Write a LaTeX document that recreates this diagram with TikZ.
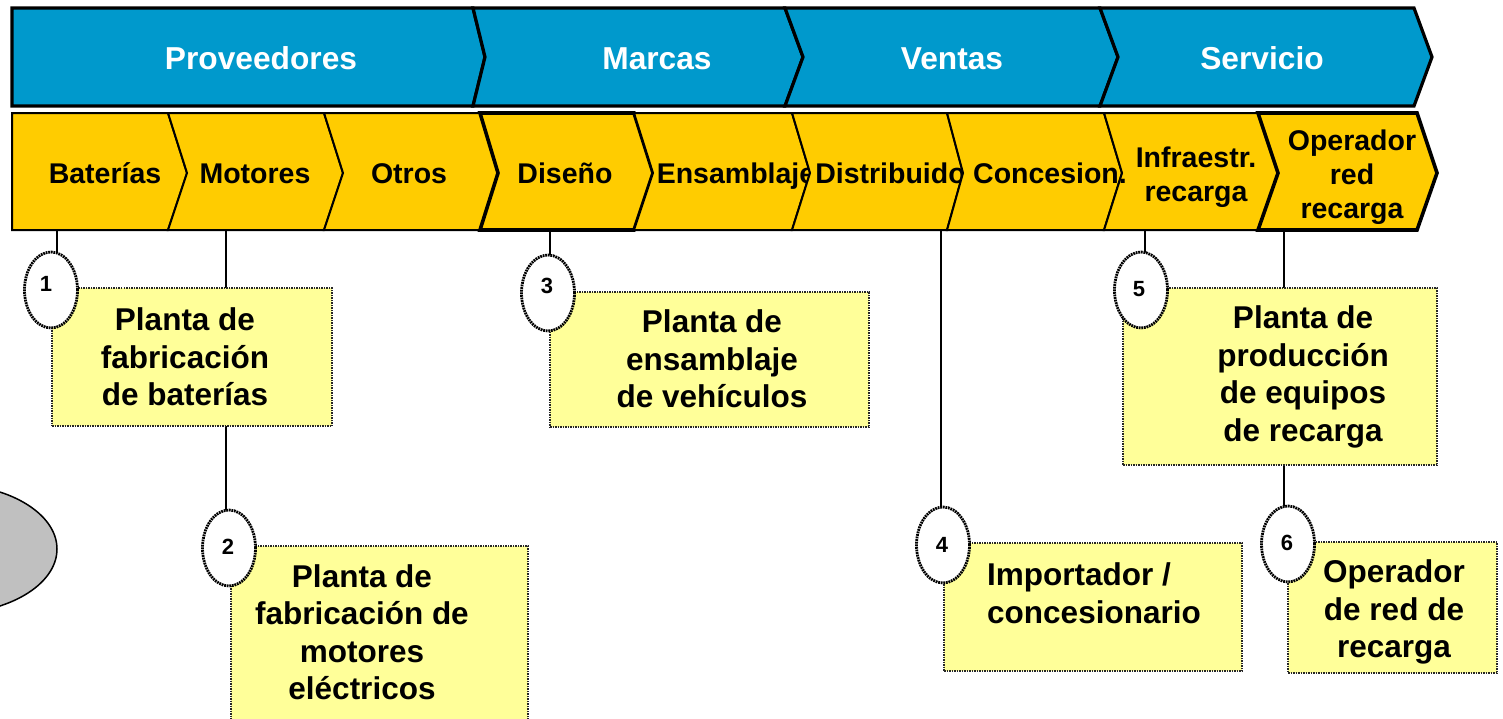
\documentclass[tikz,border=0pt]{standalone}
\usepackage{fontspec}
\setmainfont{Liberation Sans}
\usetikzlibrary{shapes.geometric}
\definecolor{bandblue}{HTML}{0099CC}
\definecolor{bandyel}{HTML}{FFCC00}
\definecolor{boxyel}{HTML}{FFFF99}
\definecolor{ovgray}{HTML}{C0C0C0}
\begin{document}
\begin{tikzpicture}[x=1pt,y=-1pt,
 bseg/.style={fill=bandblue, draw=black, line width=3.2pt, line join=miter},
 yseg/.style={fill=bandyel, draw=black, line width=2pt, line join=miter},
 ysegb/.style={yseg, line width=3.6pt},
 btxt/.style={text=white, font=\fontsize{31.7}{38}\selectfont\bfseries, inner sep=0pt, anchor=base},
 ytxt/.style={text=black, font=\fontsize{28.5}{34}\selectfont\bfseries, inner sep=0pt, align=center},
 ytxtb/.style={ytxt, anchor=base},
 boxstyle/.style={rectangle, fill=boxyel, draw=black!85, densely dotted, line width=1.5pt, inner sep=0pt},
 boxtxt/.style={font=\fontsize{31.5}{37.5}\selectfont\bfseries, inner sep=0pt, align=center},
 numcirc/.style={ellipse, fill=white, draw=black, dash pattern=on 1.8pt off 0.8pt, line width=2.8pt, minimum width=53pt, minimum height=76pt, inner sep=0pt},
 numtxt/.style={font=\fontsize{22}{24}\selectfont\bfseries, inner sep=0pt},
 link/.style={draw=black, line width=1.5pt}
]
\useasboundingbox (0,0) rectangle (1503,718);
\clip (0,0) rectangle (1503,718);

% background oval
\node[ellipse, fill=ovgray, draw=black, line width=1.5pt, minimum width=220pt, minimum height=130pt] (oval) at (-53,549) {};

% blue band
\path[bseg] (12,8) -- (473,8) -- (485,57) -- (473,106) -- (12,106) -- cycle;
\node[btxt] (tprov) at (261,69.5) {Proveedores};
\path[bseg] (473,8) -- (785,8) -- (803,57) -- (785,106) -- (473,106) -- (485,57) -- cycle;
\node[btxt] (tmarc) at (657,69.5) {Marcas};
\path[bseg] (785,8) -- (1100,8) -- (1118,57) -- (1100,106) -- (785,106) -- (803,57) -- cycle;
\node[btxt] (tvent) at (952,69.5) {Ventas};
\path[bseg] (1100,8) -- (1414,8) -- (1432,57) -- (1414,106) -- (1100,106) -- (1118,57) -- cycle;
\node[btxt] (tserv) at (1262,69.5) {Servicio};

% yellow band
\path[yseg] (12,113) -- (168,113) -- (187,173) -- (168,230) -- (12,230) -- cycle;
\node[ytxtb] (tbat) at (105,183.5) {Baterías};
\path[yseg] (168,113) -- (324,113) -- (343,173) -- (324,230) -- (168,230) -- (187,173) -- cycle;
\node[ytxtb] (tmot) at (255,183.5) {Motores};
\path[yseg] (324,113) -- (480,113) -- (498,173) -- (480,230) -- (324,230) -- (343,173) -- cycle;
\node[ytxtb] (totr) at (409,183.5) {Otros};
\path[ysegb] (480,113) -- (634,113) -- (653,173) -- (634,230) -- (480,230) -- (498,173) -- cycle;
\node[ytxtb] (tdis) at (565,183.5) {Diseño};
\path[yseg] (634,113) -- (792,113) -- (810,173) -- (792,230) -- (634,230) -- (653,173) -- cycle;
\node[ytxtb] (tens) at (736,183.5) {Ensamblaje};
\path[yseg] (792,113) -- (947,113) -- (963,173) -- (947,230) -- (792,230) -- (810,173) -- cycle;
\node[ytxtb] (tdistr) at (896,183.5) {Distribuidor};
\path[yseg] (947,113) -- (1104,113) -- (1122,173) -- (1104,230) -- (947,230) -- (963,173) -- cycle;
\path[yseg] (1104,113) -- (1258,113) -- (1278,173) -- (1258,230) -- (1104,230) -- (1122,173) -- cycle;
\node[ytxtb] (tconc) at (1050,183.5) {Concesion.};
\node[ytxt] (tinf) at (1196,177) {Infraestr.\\recarga};
\path[ysegb] (1258,113) -- (1417,113) -- (1437,173) -- (1417,230) -- (1258,230) -- (1278,173) -- cycle;
\node[ytxt] (tope) at (1352,177) {Operador\\red\\recarga};

% anchor points on the chevron band
\coordinate (a1) at (57,230);
\coordinate (a2) at (226,230);
\coordinate (a3) at (550,230);
\coordinate (a4) at (941,230);
\coordinate (a5) at (1145,230);
\coordinate (a6) at (1284,230);

\coordinate (c1p) at (51,290);
\coordinate (c2p) at (229,548);
\coordinate (c3p) at (548,293);
\coordinate (c4p) at (943,545);
\coordinate (c5p) at (1141,290);
\coordinate (c6p) at (1288,544);

% connectors (drawn under boxes and circles)
\draw[link] (a1) -- (a1 |- c1p);
\draw[link] (a2) -- (a2 |- c2p);
\draw[link] (a3) -- (a3 |- c3p);
\draw[link] (a4) -- (a4 |- c4p);
\draw[link] (a5) -- (a5 |- c5p);
\draw[link] (a6) -- (a6 |- c6p);

% boxes
\node[boxstyle, minimum width=280pt, minimum height=138pt] (b1) at (192,357) {};
\node[boxstyle, minimum width=297pt, minimum height=194pt] (b2) at (379.5,643) {};
\node[boxstyle, minimum width=319pt, minimum height=135pt] (b3) at (709.5,359.5) {};
\node[boxstyle, minimum width=298pt, minimum height=128pt] (b4) at (1093,607) {};
\node[boxstyle, minimum width=314pt, minimum height=177pt] (b5) at (1280,376.5) {};
\node[boxstyle, minimum width=209pt, minimum height=131pt] (b6) at (1392.5,607.5) {};

\node[boxtxt] (t1) at (185,357) {Planta de\\fabricación\\de baterías};
\node[boxtxt] (t2) at (362,632) {Planta de\\fabricación de\\motores\\eléctricos};
\node[boxtxt] (t3) at (712,359) {Planta de\\ensamblaje\\de vehículos};
\node[boxtxt, align=left, anchor=west] (t4) at (987,593) {Importador /\\concesionario};
\node[boxtxt] (t5) at (1303,377) {Planta de\\producción\\de equipos\\de recarga};
\node[boxtxt] (t6) at (1394,612) {Operador\\de red de\\recarga};

% numbered circles
\node[numcirc] (c1) at (c1p) {};
\node[numcirc] (c2) at (c2p) {};
\node[numcirc] (c3) at (c3p) {};
\node[numcirc] (c4) at (c4p) {};
\node[numcirc] (c5) at (c5p) {};
\node[numcirc] (c6) at (c6p) {};
\node[numtxt] (n1) at (46,284) {1};
\node[numtxt] (n2) at (228,547) {2};
\node[numtxt] (n3) at (547,286) {3};
\node[numtxt] (n4) at (942,545) {4};
\node[numtxt] (n5) at (1139,289) {5};
\node[numtxt] (n6) at (1287,543) {6};
\end{tikzpicture}
\end{document}
